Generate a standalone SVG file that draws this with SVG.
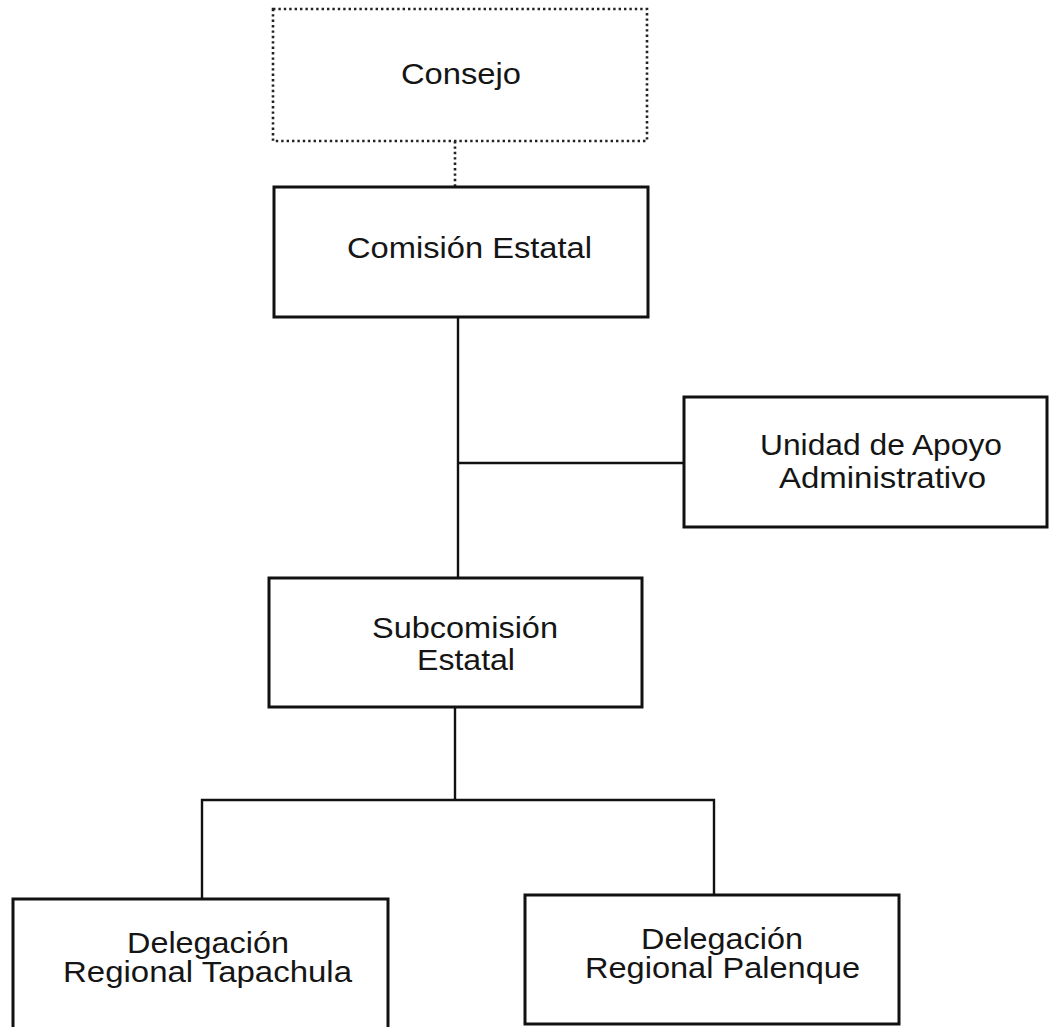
<svg xmlns="http://www.w3.org/2000/svg" width="1054" height="1027" viewBox="0 0 1054 1027">
<style>
.box{fill:#fff;stroke:#111;stroke-width:3}
.dot{fill:#fff;stroke:#222;stroke-width:2.6;stroke-dasharray:2.4 3}
.ln{fill:none;stroke:#111;stroke-width:2.4}
.dl{fill:none;stroke:#222;stroke-width:2.6;stroke-dasharray:2.4 3}
text{font-family:"Liberation Sans",Arial,sans-serif;font-size:29px;fill:#151515}
</style>
<rect width="1054" height="1027" fill="#fff"/>
<g id="connectors">
<line class="dl" x1="455" y1="141" x2="455" y2="187"/>
<line class="ln" x1="458" y1="317" x2="458" y2="578"/>
<line class="ln" x1="458" y1="463" x2="684" y2="463"/>
<line class="ln" x1="455" y1="707" x2="455" y2="800"/>
<polyline class="ln" points="202,899 202,800 714,800 714,895"/>
</g>
<g id="consejo">
<rect class="dot" x="273" y="9" width="374" height="132"/>
<text x="401" y="84" textLength="120" lengthAdjust="spacingAndGlyphs">Consejo</text>
</g>
<g id="comision">
<rect class="box" x="274" y="187" width="374" height="130"/>
<text x="347" y="258" textLength="245" lengthAdjust="spacingAndGlyphs">Comisión Estatal</text>
</g>
<g id="unidad">
<rect class="box" x="684" y="397" width="363" height="130"/>
<text x="760" y="455" textLength="242" lengthAdjust="spacingAndGlyphs">Unidad de Apoyo</text>
<text x="779" y="488" textLength="207" lengthAdjust="spacingAndGlyphs">Administrativo</text>
</g>
<g id="subcomision">
<rect class="box" x="269" y="578" width="373" height="129"/>
<text x="372" y="638" textLength="186" lengthAdjust="spacingAndGlyphs">Subcomisión</text>
<text x="417" y="670" textLength="98" lengthAdjust="spacingAndGlyphs">Estatal</text>
</g>
<g id="tapachula">
<rect class="box" x="13" y="899" width="375" height="140"/>
<text x="127" y="953" textLength="162" lengthAdjust="spacingAndGlyphs">Delegación</text>
<text x="63" y="982" textLength="289" lengthAdjust="spacingAndGlyphs">Regional Tapachula</text>
</g>
<g id="palenque">
<rect class="box" x="525" y="895" width="374" height="129"/>
<text x="641" y="949" textLength="162" lengthAdjust="spacingAndGlyphs">Delegación</text>
<text x="585" y="978" textLength="275" lengthAdjust="spacingAndGlyphs">Regional Palenque</text>
</g>
</svg>
